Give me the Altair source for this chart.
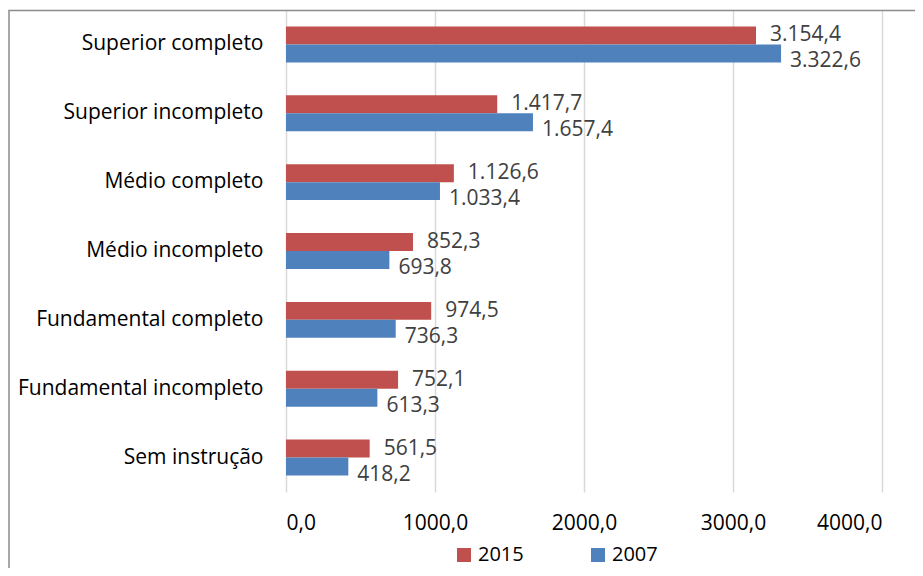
import altair as alt
import pandas as pd

categories = ["Superior completo", "Superior incompleto", "Médio completo",
              "Médio incompleto", "Fundamental completo", "Fundamental incompleto",
              "Sem instrução"]
values_2015 = [3154.4, 1417.7, 1126.6, 852.3, 974.5, 752.1, 561.5]
values_2007 = [3322.6, 1657.4, 1033.4, 693.8, 736.3, 613.3, 418.2]
years = ["2015", "2007"]
x_ticks = [0, 1000, 2000, 3000, 4000]


def br(v):
    s = f"{v:,.1f}"
    return s.replace(",", "X").replace(".", ",").replace("X", ".")


rows = []
for c, a, b in zip(categories, values_2015, values_2007):
    rows.append({"cat": c, "year": "2015", "v": a, "lab": br(a)})
    rows.append({"cat": c, "year": "2007", "v": b, "lab": br(b)})
df = pd.DataFrame(rows)

FONT = "Open Sans"
FS = 21

base = alt.Chart(df).encode(
    y=alt.Y("cat:N", sort=categories, title=None,
            scale=alt.Scale(paddingInner=0.478, paddingOuter=0.239),
            axis=alt.Axis(ticks=False, domain=False, labelPadding=23,
                          labelFont=FONT, labelFontSize=FS, labelColor="#000000",
                          labelLimit=400)),
    yOffset=alt.YOffset("year:N", sort=years, scale=alt.Scale(domain=years)),
)

bars = base.mark_bar().encode(
    x=alt.X("v:Q", title=None,
            scale=alt.Scale(domain=[0, 4000], nice=False),
            axis=alt.Axis(values=x_ticks, ticks=False, domain=False, grid=True,
                          gridColor="#d9d9d9", gridWidth=1.5,
                          labelExpr="replace(format(datum.value, '.1f'), '.', ',')",
                          labelFont=FONT, labelFontSize=FS, labelColor="#000000",
                          labelPadding=20)),
    color=alt.Color("year:N", sort=years,
                    scale=alt.Scale(domain=years, range=["#c0504d", "#4f81bd"]),
                    legend=alt.Legend(title=None, orient="none", direction="horizontal",
                                      legendX=168, legendY=535,
                                      symbolType="square", symbolSize=196,
                                      symbolStrokeWidth=0, symbolOpacity=1,
                                      labelFont=FONT, labelFontSize=20,
                                      labelColor="#000000", columnPadding=64,
                                      labelOffset=4, padding=0)),
)

lab15 = base.transform_filter(alt.datum.year == "2015").mark_text(
    align="left", baseline="middle", dx=14, font=FONT, fontSize=FS, color="#404040"
).encode(x="v:Q", text="lab:N")

lab07 = base.transform_filter(alt.datum.year == "2007").mark_text(
    align="left", baseline="middle", dx=9, dy=8, font=FONT, fontSize=FS, color="#404040"
).encode(x="v:Q", text="lab:N")

border = alt.Chart(pd.DataFrame({"k": [0]})).mark_rect(
    fill="transparent", stroke="#8c8c8c", strokeWidth=1.5
).encode(x=alt.value(-277), x2=alt.value(700), y=alt.value(0.5), y2=alt.value(700))

chart = alt.layer(border, bars, lab15, lab07).properties(
    width=596, height=482,
    padding={"left": 278, "top": 2, "right": 33, "bottom": 76},
    autosize=alt.AutoSizeParams(type="none"),
).configure_view(stroke=None)

chart.save("out.html", embed_options={"renderer": "svg", "actions": False})
